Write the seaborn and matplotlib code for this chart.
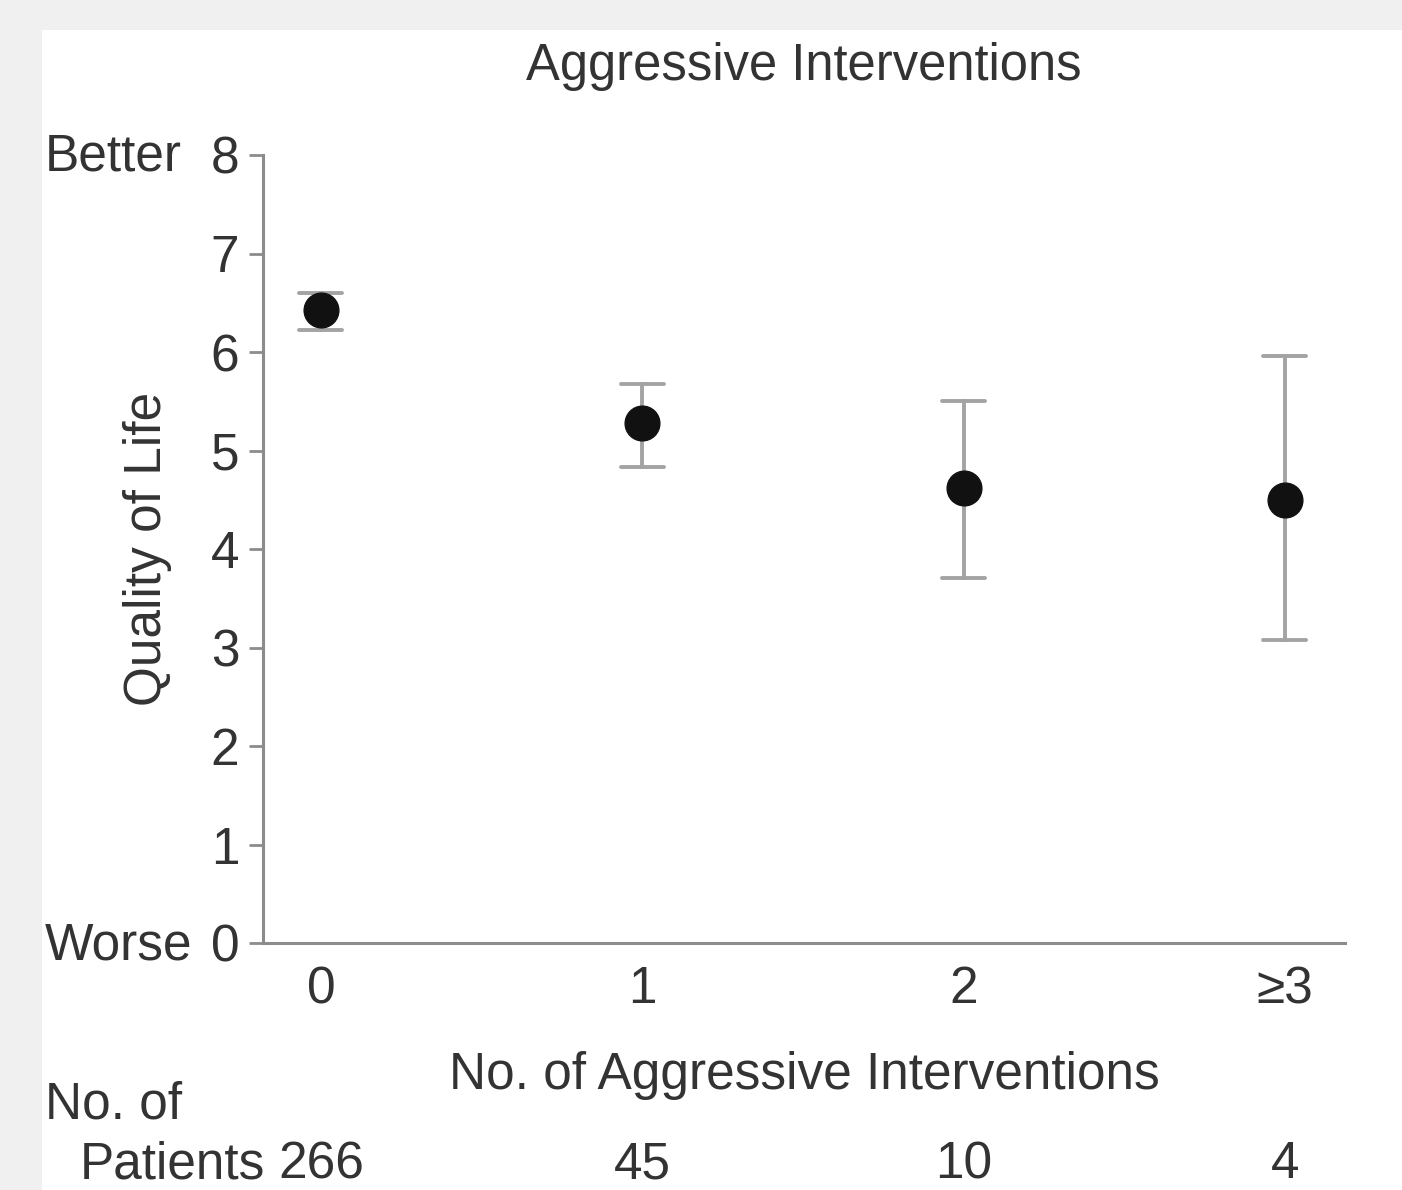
import matplotlib
matplotlib.use("Agg")
import matplotlib.pyplot as plt
from matplotlib.patches import Rectangle
import numpy as np
import pandas as pd
import seaborn as sns

# ---- data ----
categories = ["0", "1", "2", "\u22653"]
qol_mean = [6.43, 5.28, 4.62, 4.50]
qol_lower = [6.22, 4.83, 3.71, 3.08]
qol_upper = [6.60, 5.68, 5.50, 5.96]
n_patients = [266, 45, 10, 4]
y_ticks = [0, 1, 2, 3, 4, 5, 6, 7, 8]

# long-form table: each category holds its lower bound, mean and upper bound;
# median gives the point, min/max give the interval
rows = []
for c, lo, m, hi in zip(categories, qol_lower, qol_mean, qol_upper):
    for v in (lo, m, hi):
        rows.append({"cat": c, "qol": v})
df = pd.DataFrame(rows)

sns.set_style("ticks")
plt.rcParams["font.family"] = ["Liberation Sans", "DejaVu Sans"]
TXT = "#333333"
GRID = "#8c8c8c"
FS = 37

W, H = 1402, 1190
fig = plt.figure(figsize=(W / 100, H / 100), dpi=100)
fig.patch.set_facecolor("#f0f0f0")
fig.add_artist(Rectangle((42 / W, 0), 1, (H - 30) / H, transform=fig.transFigure,
                         facecolor="white", edgecolor="none", zorder=0))

ax_l, ax_r, ax_t, ax_b = 263, 1345, 155, 943
ax = fig.add_axes([ax_l / W, 1 - ax_b / H, (ax_r - ax_l) / W, (ax_b - ax_t) / H])
ax.set_facecolor("none")

sns.pointplot(data=df, x="cat", y="qol", order=categories,
              estimator="median", errorbar=lambda v: (v.min(), v.max()),
              color="#111111", markers="o", linestyle="none",
              markersize=25, markeredgewidth=1,
              capsize=0.134,
              err_kws={"color": "#a3a3a3", "linewidth": 2.8, "linestyle": "-", "zorder": 1},
              ax=ax)

ax.set_xlim(-0.18, 3.187)
ax.set_ylim(0, 8)
ax.set_yticks(y_ticks)
ax.set_yticklabels([str(t) for t in y_ticks])
sns.despine(ax=ax)
for s in ("left", "bottom"):
    ax.spines[s].set_color(GRID)
    ax.spines[s].set_linewidth(2.2)
ax.tick_params(axis="y", length=10, width=2, color=GRID, pad=7,
               labelsize=FS, labelcolor=TXT)
ax.tick_params(axis="x", length=0, pad=16, labelsize=FS, labelcolor=TXT)

ax.set_title("Aggressive Interventions", fontsize=36.5, color=TXT, pad=54)
ax.set_ylabel("Quality of Life", fontsize=FS, color=TXT)
ax.yaxis.set_label_coords((172 - ax_l) / (ax_r - ax_l), 0.5)
ax.set_xlabel("No. of Aggressive Interventions", fontsize=FS, color=TXT)
ax.xaxis.set_label_coords(0.5, (ax_b - 1051) / (ax_b - ax_t))

fig.text(45 / W, 1 - 157 / H, "Better", fontsize=FS, color=TXT, ha="left", va="center")
fig.text(45 / W, 1 - 946 / H, "Worse", fontsize=FS, color=TXT, ha="left", va="center")
fig.text(45 / W, 1 - 1105 / H, "No. of", fontsize=FS, color=TXT, ha="left", va="center")
fig.text(80 / W, 1 - 1165 / H, "Patients", fontsize=FS, color=TXT, ha="left", va="center")

trans = ax.get_xaxis_transform()
y_n = (ax_b - 1165) / (ax_b - ax_t)
for i, n in enumerate(n_patients):
    ax.text(i, y_n, str(n), transform=trans, fontsize=FS, color=TXT,
            ha="center", va="center", clip_on=False)

fig.savefig("out.png", dpi=100, facecolor=fig.get_facecolor())
